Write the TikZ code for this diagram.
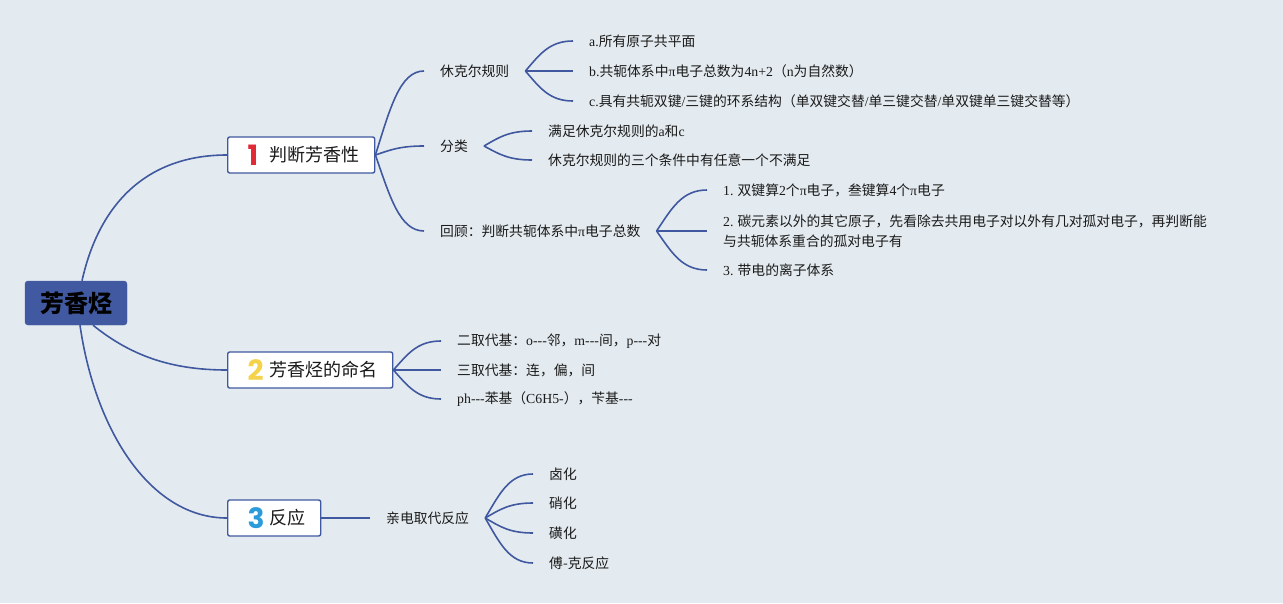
\documentclass[tikz,border=0pt]{standalone}
\usepackage{fontspec}
\usetikzlibrary{calc}
\setmainfont{Liberation Serif}
\newfontfamily\cjk{Noto Sans CJK SC}
\newfontfamily\iconf{Poppins}
\newcommand\en[1]{{\rmfamily #1}}
\newcommand\topictext[4]{\makebox[#1][l]{\hspace{20pt}\makebox[22pt][l]{\smash{\raisebox{-3.5pt}{\iconf\bfseries\fontsize{28}{28}\selectfont\color{#2}#3}}}#4}}
\definecolor{bgc}{HTML}{E4EBF0}
\definecolor{linec}{HTML}{3F58A0}
\definecolor{rootc}{HTML}{4159A1}
\definecolor{ca}{HTML}{E02A36}
\definecolor{cb}{HTML}{F4D24A}
\definecolor{cc}{HTML}{2B9BDB}
\definecolor{tc}{HTML}{1A1A1A}
\tikzset{
  rootbox/.style={draw=rootc,fill=rootc,rounded corners=3pt,minimum width=102pt,minimum height=44pt,
    font=\cjk\bfseries\fontsize{24}{24}\selectfont,text=black,inner sep=0pt},
  topic/.style={draw=linec,fill=white,line width=1.4pt,rounded corners=2pt,minimum height=36pt,
    font=\cjk\fontsize{18}{18}\selectfont,text=tc,inner xsep=0pt,inner ysep=0pt,anchor=west},
  txt/.style={anchor=west,inner xsep=16pt,inner ysep=5pt,align=left,
    font=\cjk\fontsize{13.8}{20}\selectfont,text=tc},
  conn/.style={draw=linec,line width=1.6pt},
  curv/.style={to path={let \p1=(\tikztostart),\p2=(\tikztotarget) in
     .. controls ({\x1+0.3*(\x2-\x1)},{\y1+0.55*(\y2-\y1)}) and ({\x1+0.5*(\x2-\x1)},\y2) .. (\tikztotarget)}}
}
\begin{document}
\begin{tikzpicture}[x=1pt,y=-1pt]
\fill[bgc] (0,0) rectangle (1283,603);
\useasboundingbox (0,0) rectangle (1283,603);

% root and main topics
\node[rootbox] (root) at (76,303) {芳香烃};
\node[topic] (n1) at (227,155) {\topictext{147pt}{ca}{1}{判断芳香性}};
\node[topic] (n2) at (227,370) {\topictext{165pt}{cb}{2}{芳香烃的命名}};
\node[topic] (n3) at (227,518) {\topictext{93pt}{cc}{3}{反应}};

% level 2
\node[txt] (hk) at (424,71) {休克尔规则};
\node[txt] (fl) at (424,146) {分类};
\node[txt] (hg) at (424,231) {回顾：判断共轭体系中\en{π}电子总数};

\node[txt] (ha) at (573,41) {\en{a.}所有原子共平面};
\node[txt] (hb) at (573,71) {\en{b.}共轭体系中\en{π}电子总数为\en{4n+2}（\en{n}为自然数）};
\node[txt] (hc) at (573,101) {\en{c.}具有共轭双键\en{/}三键的环系结构（单双键交替\en{/}单三键交替\en{/}单双键单三键交替等）};

\node[txt] (fa) at (532,131) {满足休克尔规则的\en{a}和\en{c}};
\node[txt] (fb) at (532,160) {休克尔规则的三个条件中有任意一个不满足};

\node[txt] (g1) at (707,190) {\en{1.} 双键算\en{2}个\en{π}电子，叁键算\en{4}个\en{π}电子};
\node[txt] (g2) at (707,231) {\en{2.} 碳元素以外的其它原子，先看除去共用电子对以外有几对孤对电子，再判断能\\与共轭体系重合的孤对电子有};
\node[txt] (g3) at (707,270) {\en{3.} 带电的离子体系};

\node[txt] (m1) at (441,341) {二取代基：\en{o-{}-{}-}邻，\en{m-{}-{}-}间，\en{p-{}-{}-}对};
\node[txt] (m2) at (441,370) {三取代基：连，偏，间};
\node[txt] (m3) at (441,399) {\en{ph-{}-{}-}苯基（\en{C6H5-}），苄基\en{-{}-{}-}};

\node[txt] (pq) at (370,518) {亲电取代反应};
\node[txt] (r1) at (533,474) {卤化};
\node[txt] (r2) at (533,503) {硝化};
\node[txt] (r3) at (533,533) {磺化};
\node[txt] (r4) at (533,563) {傅-克反应};

% root connectors
\draw[conn] ($(root.north)+(6,0)$) .. controls (100,200) and (150,155) .. (n1.west);
\draw[conn] ($(root.south)+(17,0)$) .. controls (130,355) and (170,370) .. (n2.west);
\draw[conn] ($(root.south)+(4,0)$) .. controls (95,430) and (150,518) .. (n3.west);

% branches
\foreach \c in {hk,fl,hg} \draw[conn] (n1.east) to[curv] (\c.west);
\foreach \c in {ha,hb,hc} \draw[conn] (hk.east) to[curv] (\c.west);
\foreach \c in {fa,fb} \draw[conn] (fl.east) to[curv] (\c.west);
\foreach \c in {g1,g2,g3} \draw[conn] (hg.east) to[curv] (\c.west);
\foreach \c in {m1,m2,m3} \draw[conn] (n2.east) to[curv] (\c.west);
\draw[conn] (n3.east) -- (pq.west);
\foreach \c in {r1,r2,r3,r4} \draw[conn] (pq.east) to[curv] (\c.west);
\end{tikzpicture}
\end{document}
